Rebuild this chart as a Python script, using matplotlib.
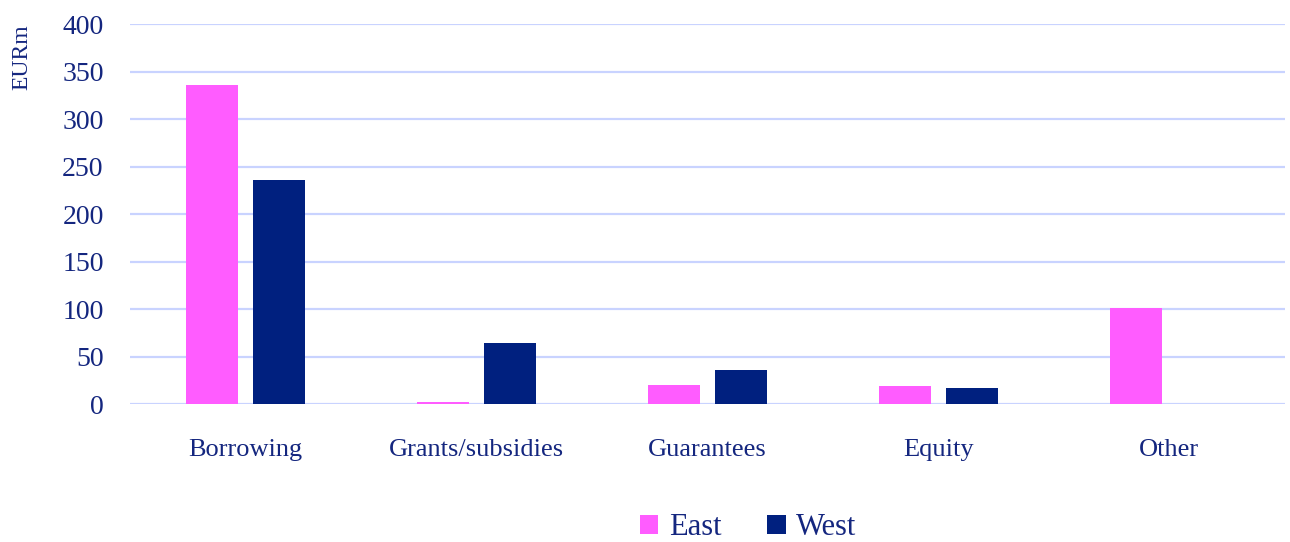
import matplotlib.pyplot as plt
import numpy as np

# Financing by instrument, EURm
categories = ['Borrowing', 'Grants/subsidies', 'Guarantees', 'Equity', 'Other']
east = [336, 2, 20, 19, 101]
west = [236, 64, 36, 17, 0]

pink = '#FF5CFF'
navy = '#00207F'
text_col = '#14267F'
grid_col = '#C9D3FF'

plt.rcParams['font.family'] = ['Liberation Serif', 'DejaVu Serif']

fig = plt.figure(figsize=(12.9, 5.42), dpi=100)
ax = fig.add_axes([0.1008, 0.2546, 0.8952, 0.7011])

x = np.arange(len(categories))
w = 0.225
ax.bar(x - 0.145, east, width=w, color=pink, label='East', zorder=3)
ax.bar(x + 0.145, west, width=w, color=navy, label='West', zorder=3)

ax.set_xlim(-0.5, len(categories) - 0.5)
ax.set_ylim(0, 400)
ax.set_yticks(range(0, 401, 50))
ax.yaxis.grid(True, color=grid_col, linewidth=1.6, zorder=0)
ax.tick_params(axis='y', length=0, pad=19, labelsize=20, labelcolor=text_col)
ax.tick_params(axis='x', length=0, pad=25, labelsize=19, labelcolor=text_col)
ax.set_xticks(x)
ax.set_xticklabels(categories)
for s in ax.spines.values():
    s.set_visible(False)

fig.text(0.017, 0.894, 'EURm', rotation=90, ha='center', va='center',
         fontsize=17, color=text_col)

leg = fig.legend(loc='center', bbox_to_anchor=(0.580, 0.026), ncol=2,
                 frameon=False, fontsize=22, handlelength=0.6, handleheight=0.6,
                 handletextpad=0.35, columnspacing=1.5, borderpad=0.1)
for t in leg.get_texts():
    t.set_color(text_col)

fig.savefig('out.png', dpi=100)
